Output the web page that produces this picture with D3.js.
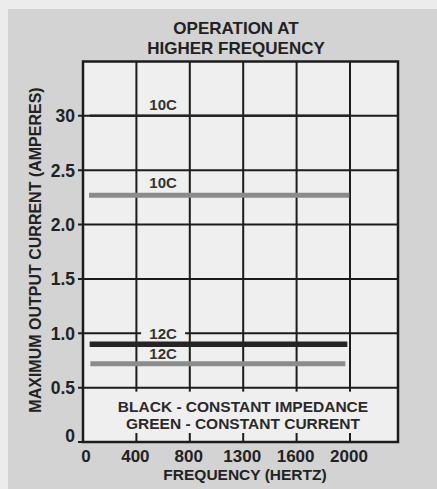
<!DOCTYPE html>
<html>
<head>
<meta charset="utf-8">
<script src="https://cdn.jsdelivr.net/npm/d3@7"></script>
<style>
  html, body { margin: 0; padding: 0; background: #ececec; }
  svg { display: block; }
  text { font-family: "Liberation Sans", Arial, Helvetica, sans-serif; font-weight: bold; }
</style>
</head>
<body>
<svg id="chart" width="437" height="489"></svg>
<script>
// ---- data ----
const titleLines = ["OPERATION AT", "HIGHER FREQUENCY"];
const xTickValues = [0, 400, 800, 1300, 1600, 2000];
const xTickLabels = ["0", "400", "800", "1300", "1600", "2000"];
const yTickValues = [0, 0.5, 1.0, 1.5, 2.0, 2.5, 3.0];
const yTickLabels = ["0", "0.5", "1.0", "1.5", "2.0", "2.5", "30"];
const xTitle = "FREQUENCY (HERTZ)";
const yTitle = "MAXIMUM OUTPUT CURRENT (AMPERES)";
const legendLines = ["BLACK - CONSTANT IMPEDANCE", "GREEN - CONSTANT CURRENT"];

// series: [frequency Hz, max current A]
const impedance10C = [[50, 3.0], [2000, 3.0]];
const impedance12C = [[50, 0.9], [1980, 0.9]];
const current10C   = [[45, 2.27], [1995, 2.27]];
const current12C   = [[55, 0.72], [1965, 0.72]];
const seriesNames  = ["10C", "12C", "10C", "12C"];
const seriesKinds  = ["impedance", "impedance", "current", "current"];
const seriesData   = [impedance10C, impedance12C, current10C, current12C];
const labelFreq    = 600;

// ---- layout ----
const W = 437, H = 489;
const pLeft = 83, pRight = 398, pTop = 61.5, pBottom = 442;
const lastTickX = 350;
const xMaxFreq = 2360;
const plotBg = "#efefef";
const ink = "#1c1c1c";

const svg = d3.select("#chart");

// background panels
svg.append("rect").attr("x", 0).attr("y", 0).attr("width", W).attr("height", H).attr("fill", "#ececec");
svg.append("rect").attr("x", 8).attr("y", 9).attr("width", W - 8).attr("height", H - 9).attr("fill", "#d3d3d3");

// scales
const step = (lastTickX - pLeft) / (xTickValues.length - 1);
const x = d3.scaleLinear()
  .domain([...xTickValues, xMaxFreq])
  .range([...xTickValues.map((d, i) => pLeft + i * step), pRight]);
const y = d3.scaleLinear().domain([0, 3.5]).range([pBottom, pTop]);

// plot background
svg.append("rect").attr("x", pLeft).attr("y", pTop).attr("width", pRight - pLeft).attr("height", pBottom - pTop).attr("fill", plotBg);

// grid
const grid = svg.append("g");
grid.selectAll("line.v").data(xTickValues.slice(1)).join("line")
  .attr("x1", d => x(d)).attr("x2", d => x(d))
  .attr("y1", pTop).attr("y2", pBottom)
  .attr("stroke", ink).attr("stroke-width", 2);
grid.selectAll("line.h").data(yTickValues).join("line")
  .attr("x1", pLeft - 5).attr("x2", pRight)
  .attr("y1", d => y(d)).attr("y2", d => y(d))
  .attr("stroke", ink).attr("stroke-width", 2);

// legend box (covers grid)
svg.append("rect")
  .attr("x", pLeft + 1).attr("y", y(0.5) + 4)
  .attr("width", pRight - pLeft - 2).attr("height", pBottom - 9 - (y(0.5) + 4))
  .attr("fill", plotBg);

// border
svg.append("rect").attr("x", pLeft).attr("y", pTop).attr("width", pRight - pLeft).attr("height", pBottom - pTop)
  .attr("fill", "none").attr("stroke", ink).attr("stroke-width", 2.5);

// series lines
const line = d3.line().x(d => x(d[0])).y(d => y(d[1]));
const styles = {
  impedance: { stroke: "#252525", width: 5.5 },
  current: { stroke: "#8b8b8b", width: 5 }
};
seriesData.forEach((s, i) => {
  const st = styles[seriesKinds[i]];
  const w = i === 0 ? 2.5 : st.width;
  svg.append("path").attr("d", line(s)).attr("fill", "none")
    .attr("stroke", st.stroke).attr("stroke-width", w);
});

// series labels
const labelOffsets = [-6, -5.5, -7, -4.5];
seriesData.forEach((s, i) => {
  const lx = x(labelFreq);
  const ly = y(s[0][1]) + labelOffsets[i];
  if (i === 1) {
    const gy = y(1.0);
    svg.append("rect").attr("x", lx - 22).attr("y", gy - 3).attr("width", 44).attr("height", 6).attr("fill", plotBg);
  }
  svg.append("text").attr("x", lx).attr("y", ly)
    .attr("text-anchor", "middle").attr("font-size", 15).attr("fill", "#333")
    .text(seriesNames[i]);
});

// y tick labels
svg.selectAll("text.yt").data(yTickValues).join("text")
  .attr("x", 75).attr("y", (d, i) => y(d) + 6.5 - (i === 0 ? 7 : 0))
  .attr("text-anchor", "end").attr("font-size", 17.5).attr("fill", "#222")
  .text((d, i) => yTickLabels[i]);

// x tick labels
svg.selectAll("text.xt").data(xTickValues).join("text")
  .attr("x", (d, i) => x(d) + (i === 0 ? 3 : -1)).attr("y", 461.5)
  .attr("text-anchor", "middle").attr("font-size", 17).attr("fill", "#222")
  .text((d, i) => xTickLabels[i]);

// x title
svg.append("text").attr("x", 245).attr("y", 479.5).attr("text-anchor", "middle")
  .attr("font-size", 15.5).attr("fill", "#222").text(xTitle);

// y title
svg.append("text").attr("transform", "translate(41,250) rotate(-90)")
  .attr("text-anchor", "middle").attr("font-size", 16).attr("fill", "#222").text(yTitle);

// title
titleLines.forEach((t, i) => {
  svg.append("text").attr("x", 236).attr("y", 34 + i * 19.5).attr("text-anchor", "middle")
    .attr("font-size", 17).attr("fill", "#222").text(t);
});

// legend text
legendLines.forEach((t, i) => {
  svg.append("text").attr("x", 243).attr("y", 412 + i * 17).attr("text-anchor", "middle")
    .attr("font-size", 15.5).attr("fill", "#2a2a2a").text(t);
});
</script>
</body>
</html>
